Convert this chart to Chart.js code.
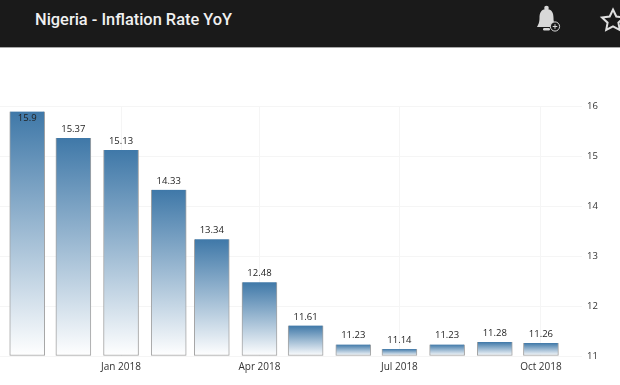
<!DOCTYPE html>
<html>
<head>
<meta charset="utf-8">
<title>Nigeria - Inflation Rate YoY</title>
<script src="https://cdn.jsdelivr.net/npm/chart.js@4"></script>
<style>
    html, body { margin: 0; padding: 0; background: #fff; overflow: hidden; }
    #header { position: absolute; left: 0; top: 0; width: 620px; height: 47px; background: #1a1a1a; border-bottom: 1px solid #a8a8a8; }
    #title { position: absolute; left: 35px; top: 9px; color: #f0f0f0; font: 500 16.4px Roboto, sans-serif; line-height: 22px; white-space: nowrap; }
    #icons { position: absolute; left: 0; top: 0; }
    #wrap { position: absolute; left: 0; top: 48px; width: 620px; height: 337px; }
</style>
</head>
<body>
<div id="header">
    <div id="title">Nigeria - Inflation Rate YoY</div>
    <svg id="icons" width="620" height="47">
        <!-- campana -->
        <circle cx="546.5" cy="8" r="2.3" fill="#d8d8d8"/>
        <path d="M546.5 9 C541 9 539.5 13 539.5 18 C539.5 23 538 25 537 27 L556 27 C555 25 553.5 23 553.5 18 C553.5 13 552 9 546.5 9 Z" fill="#d8d8d8"/>
        <rect x="543" y="28" width="7" height="2.5" rx="1.2" fill="#d8d8d8"/>
        <circle cx="555" cy="26.5" r="4.6" fill="#1a1a1a" stroke="#d8d8d8" stroke-width="1"/>
        <path d="M552.7 26.5 H557.3 M555 24.2 V28.8" stroke="#d8d8d8" stroke-width="1"/>
        <!-- stella -->
        <path d="M613 9.5 L616.3 16.5 L624 17.5 L618.4 22.7 L619.8 30 L613 26.4 L606.2 30 L607.6 22.7 L602 17.5 L609.7 16.5 Z" fill="none" stroke="#e0e0e0" stroke-width="2"/>
    </svg>
</div>
<div id="wrap"><canvas id="inflationChart"></canvas></div>
<script>
const months = ['2017-11-01', '2017-12-01', '2018-01-01', '2018-02-01', '2018-03-01', '2018-04-01',
    '2018-05-01', '2018-06-01', '2018-07-01', '2018-08-01', '2018-09-01', '2018-10-01'];
const inflation = [15.9, 15.37, 15.13, 14.33, 13.34, 12.48, 11.61, 11.23, 11.14, 11.23, 11.28, 11.26];
const tickDates = ['2018-01-01', '2018-04-01', '2018-07-01', '2018-10-01'];
const tickLabels = ['Jan 2018', 'Apr 2018', 'Jul 2018', 'Oct 2018'];
const yMin = 11;
const yMax = 16;

// giorni da gen 2018, cosi' le barre seguono il calendario vero
const toDay = s => (Date.parse(s) - Date.parse('2018-01-01')) / 86400000;
const tickDays = tickDates.map(toDay);

const valueLabels = {
    id: 'valueLabels',
    afterDatasetsDraw(chart) {
        const { ctx, chartArea } = chart;
        ctx.save();
        ctx.font = "9.5px 'Open Sans', sans-serif";
        ctx.fillStyle = '#222';
        ctx.textAlign = 'center';
        ctx.textBaseline = 'bottom';
        chart.getDatasetMeta(0).data.forEach((bar, i) => {
            const outside = bar.y - 4;
            // se non ci sta sopra la barra va dentro
            const y = outside - 10 < chartArea.top ? bar.y + 12 : outside;
            ctx.fillText(String(inflation[i]), bar.x, y);
        });
        ctx.restore();
    }
};

new Chart(document.getElementById('inflationChart'), {
    type: 'bar',
    data: {
        datasets: [{
            data: months.map((m, i) => ({ x: toDay(m), y: inflation[i] })),
            base: yMin,
            barThickness: 35,
            clip: 2,
            borderSkipped: false,
            borderWidth: { top: 0, left: 1, right: 1, bottom: 1 },
            borderColor: '#a3a3a3',
            backgroundColor: (c) => {
                const { chart, parsed } = c;
                if (!chart.chartArea || !parsed) return '#4682b4';
                const y = chart.scales.y;
                const g = chart.ctx.createLinearGradient(0, y.getPixelForValue(parsed.y), 0, y.bottom);
                g.addColorStop(0, '#3f78a8');
                g.addColorStop(1, '#ffffff');
                return g;
            }
        }]
    },
    options: {
        responsive: true,
        maintainAspectRatio: false,
        animation: false,
        layout: { padding: { top: 58.5 } },
        plugins: { legend: { display: false }, tooltip: { enabled: false } },
        scales: {
            x: {
                type: 'linear',
                offset: false,
                min: -78.7,
                max: 299.7,
                afterBuildTicks: (scale) => { scale.ticks = tickDays.map(v => ({ value: v })); },
                afterFit: (scale) => { scale.height = 29; },
                grid: { color: '#f5f5f5', drawTicks: false, offset: false },
                border: { display: false },
                ticks: {
                    autoSkip: false,
                    maxRotation: 0,
                    padding: 5,
                    color: '#333',
                    font: { family: "'Open Sans', sans-serif", size: 10 },
                    callback: (v) => tickLabels[tickDays.indexOf(v)]
                }
            },
            y: {
                position: 'right',
                min: yMin,
                max: yMax,
                afterFit: (scale) => { scale.width = 38; },
                grid: { color: '#f5f5f5', drawTicks: false },
                border: { display: false },
                ticks: {
                    stepSize: 1,
                    padding: 5,
                    color: '#333',
                    font: { family: "'Open Sans', sans-serif", size: 9.5 }
                }
            }
        }
    },
    plugins: [valueLabels]
});
</script>
</body>
</html>
